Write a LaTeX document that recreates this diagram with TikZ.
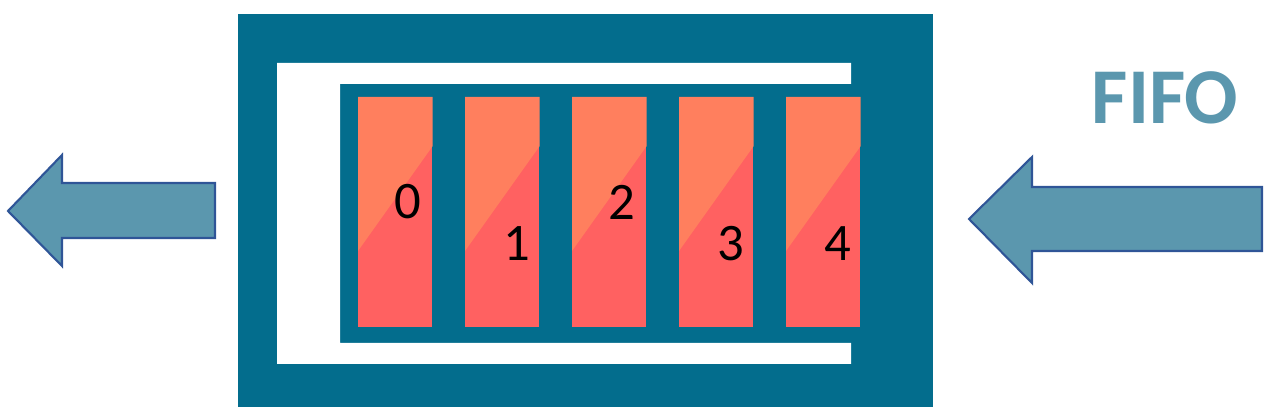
\documentclass[tikz,border=0pt]{standalone}
\usepackage{fontspec}
\setmainfont{Carlito}
\usepackage{xcolor}
\definecolor{mytea1}{HTML}{036D8D}
\definecolor{myora1}{HTML}{FF7F5E}
\definecolor{myred1}{HTML}{FF6161}
\definecolor{myblu1}{HTML}{5B97AE}
\definecolor{myblu2}{HTML}{2F5597}
\usepackage{tikz}
\usetikzlibrary{positioning}
\tikzstyle{frame} = [fill=mytea1]
\tikzstyle{bracket} = [fill=white]
\tikzstyle{cell} = [rectangle, minimum width=74*0.02cm, minimum height=230*0.02cm, inner sep=0pt, fill=myred1]
\tikzstyle{digit} = [inner sep=0pt, font=\fontsize{30}{30}\selectfont, text=black]
\tikzstyle{bigarrow} = [fill=myblu1, draw=myblu2, line width=1.2pt, line join=miter]
\tikzstyle{title} = [font=\fontsize{45}{45}\selectfont\bfseries, text=myblu1]

\begin{document}
\begin{tikzpicture}[x=0.02cm,y=-0.02cm]
	\useasboundingbox (0,0) rectangle (1268,418);
	% queue body
	\fill [frame] (238,14) rectangle (933,407);
	\fill [bracket] (277,63) -- (851,63) -- (851,84) -- (340,84) -- (340,343) -- (851,343) -- (851,364) -- (277,364) -- cycle;
	% cells
	\foreach \i/\dy in {0/0,1/1,2/0,3/1,4/1}{
		\node (c\i)[cell, anchor=north west] at (358+107*\i,97) {};
		\fill [myora1] (c\i.north west) -- (c\i.north east) -- ([yshift=-49*0.02cm]c\i.north east) -- ([yshift=-154*0.02cm]c\i.north west) -- cycle;
		\node (n\i)[digit] at (408+107*\i+2*\dy,202+42*\dy) {\i};
	}
	% in / out
	\draw [bigarrow] (8,211) -- (62,155) -- (62,183) -- (215,183) -- (215,238) -- (62,238) -- (62,266) -- cycle;
	\draw [bigarrow] (969,219) -- (1032,157) -- (1032,187) -- (1262,187) -- (1262,251) -- (1032,251) -- (1032,283) -- cycle;
	\node (fifo)[title] at (1165,98) {FIFO};
\end{tikzpicture}
\end{document}
